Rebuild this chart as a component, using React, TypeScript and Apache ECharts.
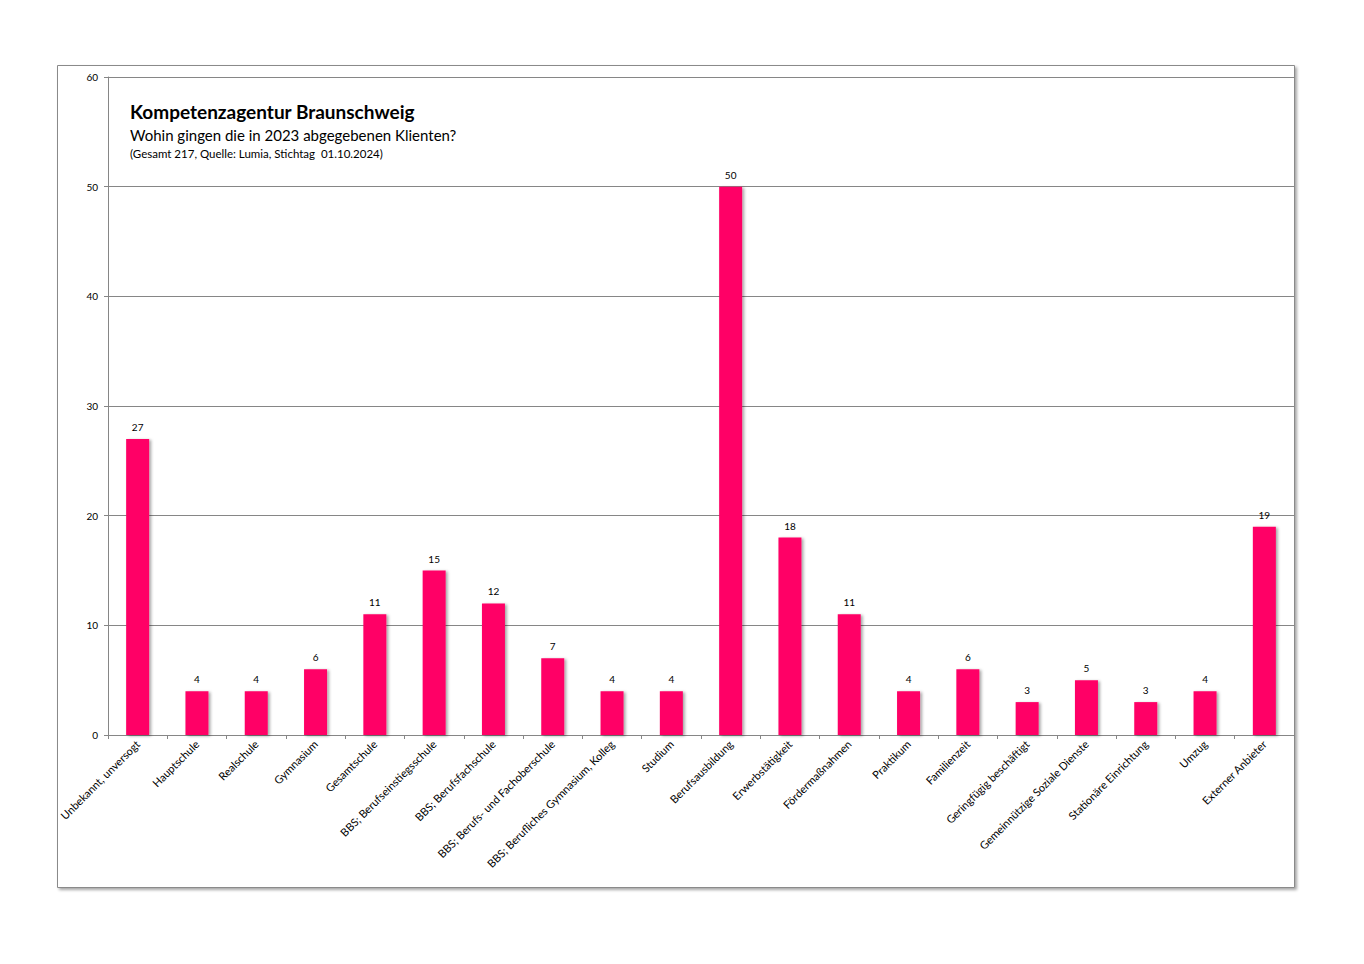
import React, { useEffect, useRef } from "react";
import * as echarts from "echarts";

const categories = [
  "Unbekannt, unversogt",
  "Hauptschule",
  "Realschule",
  "Gymnasium",
  "Gesamtschule",
  "BBS; Berufseinstiegsschule",
  "BBS; Berufsfachschule",
  "BBS; Berufs- und Fachoberschule",
  "BBS; Berufliches Gymnasium, Kolleg",
  "Studium",
  "Berufsausbildung",
  "Erwerbstätigkeit",
  "Fördermaßnahmen",
  "Praktikum",
  "Familienzeit",
  "Geringfügig beschäftigt",
  "Gemeinnützige Soziale Dienste",
  "Stationäre Einrichtung",
  "Umzug",
  "Externer Anbieter",
];
const values = [27, 4, 4, 6, 11, 15, 12, 7, 4, 4, 50, 18, 11, 4, 6, 3, 5, 3, 4, 19];

const titleText = "Kompetenzagentur Braunschweig";
const subtitleText = "Wohin gingen die in 2023 abgegebenen Klienten?";
const noteText = "(Gesamt 217, Quelle: Lumia, Stichtag  01.10.2024)";

const FONT = "Lato, 'Open Sans', sans-serif";

export default function App() {
  const ref = useRef<HTMLDivElement>(null);
  useEffect(() => {
    if (!ref.current) return;
    const chart = echarts.init(ref.current, null, { renderer: "svg" });
    chart.setOption({
      animation: false,
      backgroundColor: "#ffffff",
      textStyle: { fontFamily: FONT },
      grid: { left: 108, right: 70, top: 77, bottom: 229, containLabel: false },
      xAxis: {
        type: "category",
        data: categories,
        boundaryGap: true,
        axisLine: { show: true, lineStyle: { color: "#868686", width: 1 } },
        axisTick: { show: true, alignWithLabel: false, length: 4, lineStyle: { color: "#868686" } },
        axisLabel: {
          interval: 0,
          rotate: 45,
          fontSize: 11,
          color: "#000",
          fontFamily: FONT,
          margin: 7,
        },
      },
      yAxis: {
        type: "value",
        min: 0,
        max: 60,
        interval: 10,
        axisLine: { show: true, lineStyle: { color: "#868686", width: 1 } },
        axisTick: { show: true, length: 4, lineStyle: { color: "#868686" } },
        axisLabel: { fontSize: 10, color: "#000", fontFamily: FONT, margin: 10 },
        splitLine: { show: true, lineStyle: { color: "#868686", width: 1 } },
      },
      series: [
        {
          type: "bar",
          data: values,
          barWidth: 23,
          itemStyle: {
            color: "#FF0066",
            shadowColor: "rgba(0,0,0,0.35)",
            shadowBlur: 3,
            shadowOffsetX: 2,
            shadowOffsetY: 1,
          },
          label: {
            show: true,
            position: "top",
            distance: 7,
            fontSize: 10,
            color: "#000",
            fontFamily: FONT,
          },
        },
      ],
      graphic: [
        {
          type: "rect",
          z: -10,
          silent: true,
          shape: { x: 57.5, y: 65.5, width: 1237, height: 822 },
          style: {
            fill: "#ffffff",
            stroke: "#8a8a8a",
            lineWidth: 1,
            shadowColor: "rgba(0,0,0,0.35)",
            shadowBlur: 3,
            shadowOffsetX: 2,
            shadowOffsetY: 2,
          },
        },
        {
          type: "text",
          left: 130,
          top: 102,
          style: { text: titleText, font: `bold 19px ${FONT}`, fill: "#000" },
        },
        {
          type: "text",
          left: 130,
          top: 127,
          style: { text: subtitleText, font: `15px ${FONT}`, fill: "#000" },
        },
        {
          type: "text",
          left: 130,
          top: 147,
          style: { text: noteText, font: `11.5px ${FONT}`, fill: "#000" },
        },
      ],
    });
    return () => chart.dispose();
  }, []);
  return (
    <div
      ref={ref}
      style={{ position: "fixed", left: 0, top: 0, width: 1364, height: 964 }}
    />
  );
}
